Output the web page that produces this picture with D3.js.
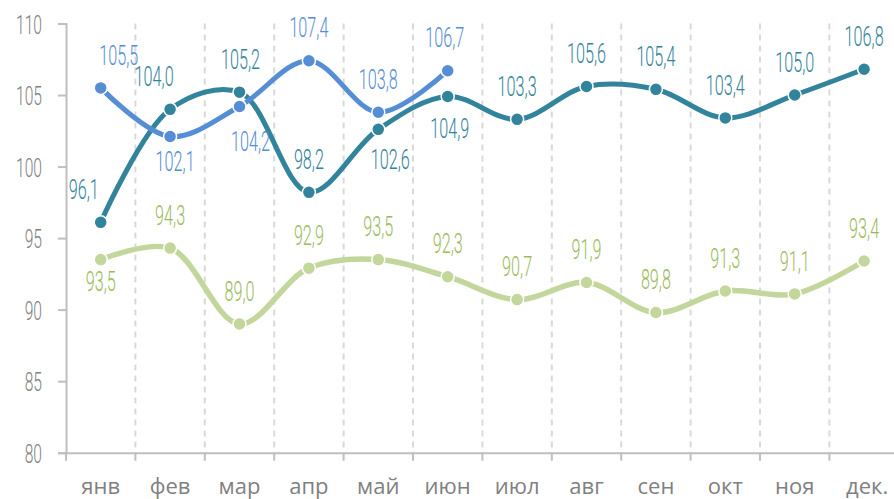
<!DOCTYPE html>
<html><head><meta charset="utf-8">
<script src="https://cdn.jsdelivr.net/npm/d3@7"></script>
<style>
html,body{margin:0;padding:0;background:#fff;overflow:hidden;}
svg{display:block;}
</style></head>
<body><svg id="c" width="894" height="499"></svg>
<script>
const months = ["янв","фев","мар","апр","май","июн","июл","авг","сен","окт","ноя","дек."];
const seriesBlue  = [105.5,102.1,104.2,107.4,103.8,106.7];
const seriesTeal  = [96.1,104.0,105.2,98.2,102.6,104.9,103.3,105.6,105.4,103.4,105.0,106.8];
const seriesGreen = [93.5,94.3,89.0,92.9,93.5,92.3,90.7,91.9,89.8,91.3,91.1,93.4];
const yTicks = [80,85,90,95,100,105,110];
// label placement: a = above, b = below
const placeBlue  = ["a","b","b","a","a","a"];
const placeTeal  = ["a","a","a","a","b","b","a","a","a","a","a","a"];
const placeGreen = ["b","a","a","a","a","a","a","a","a","a","a","a"];

const svg = d3.select("#c");
const left = 66, bw = 69.4;
const x = d3.scaleBand().domain(months).range([left, left + bw*12]).padding(0);
const y = d3.scaleLinear().domain([80,110]).range([452.7, 23.5]);
const cx = m => x(m) + x.bandwidth()/2;

const C = {teal:"#31849b", blue:"#558ed5", green:"#c3d69b", greenTxt:"#9bbb59", axis:"#bfbfbf", grid:"#d9d9d9", txt:"#808080"};

// gridlines at category boundaries
const bounds = months.map(m => x(m) + x.bandwidth());
svg.append("g").selectAll("line").data(bounds).join("line")
  .attr("x1", d=>d).attr("x2", d=>d).attr("y1", y(110)).attr("y2", y(80))
  .attr("stroke", C.grid).attr("stroke-width", 2).attr("stroke-dasharray", "6,5");

// y axis
const yAx = svg.append("g").attr("transform", `translate(${left},0)`)
  .call(d3.axisLeft(y).tickValues(yTicks).tickSize(8).tickFormat(""));
yAx.select(".domain").attr("stroke", C.axis).attr("stroke-width", 2);
yAx.selectAll(".tick line").attr("stroke", C.axis).attr("stroke-width", 2);

function condText(g, xx, yy, txt, color, size, sx, anchor) {
  g.append("text")
    .attr("transform", `translate(${xx},${yy}) scale(${sx},1)`)
    .attr("text-anchor", anchor || "middle")
    .attr("dominant-baseline", "central")
    .attr("font-family", "Roboto")
    .attr("font-weight", 300)
    .attr("font-size", size)
    .attr("fill", color)
    .text(txt);
}
const yl = svg.append("g");
yTicks.forEach(t => condText(yl, 42, y(t) + 1, String(t), C.txt, 26, 0.6, "end"));

// x axis
const xAx = svg.append("g").attr("transform", `translate(0,${y(80)})`)
  .call(d3.axisBottom(x).tickSize(0).tickFormat(""));
xAx.select(".domain").attr("stroke", C.axis).attr("stroke-width", 2);
svg.append("g").selectAll("line").data([left].concat(bounds)).join("line")
  .attr("x1", d=>d).attr("x2", d=>d).attr("y1", y(80)).attr("y2", y(80)+8)
  .attr("stroke", C.axis).attr("stroke-width", 2);
svg.append("g").selectAll("text").data(months).join("text")
  .attr("x", d => cx(d) + (d === "дек." ? 3 : 0)).attr("y", 494)
  .attr("text-anchor", "middle")
  .attr("font-family", "Open Sans").attr("font-size", 22).attr("fill", C.txt)
  .text(d => d);

const line = d3.line().curve(d3.curveCatmullRom.alpha(0.5)).x(d => cx(d.m)).y(d => y(d.v));
function drawSeries(vals, color, place, w) {
  const data = vals.map((v,i) => ({m: months[i], v, p: place[i]}));
  const g = svg.append("g");
  g.append("path").datum(data).attr("d", line).attr("fill", "none")
    .attr("stroke", color).attr("stroke-width", w).attr("stroke-linecap", "round");
  g.selectAll("circle").data(data).join("circle")
    .attr("cx", d => cx(d.m)).attr("cy", d => y(d.v)).attr("r", 6.5)
    .attr("fill", color).attr("stroke", "#fff").attr("stroke-width", 1.5);
  return {g, data};
}
const sg = drawSeries(seriesGreen, C.green, placeGreen, 5.5);
const st = drawSeries(seriesTeal, C.teal, placeTeal, 5);
const sb = drawSeries(seriesBlue, C.blue, placeBlue, 5);

const fmt = v => v.toFixed(1).replace(".", ",");
function labels(s, color, dxs, dys) {
  const lg = svg.append("g");
  s.data.forEach((d,i) => {
    const dy = (d.p === "a" ? -33 : 28) + (dys ? dys[i] : 0);
    condText(lg, cx(d.m) + (dxs ? dxs[i] : 0), y(d.v) + dy, fmt(d.v), color, 27, 0.6);
  });
}
labels(sg, C.greenTxt, [0,0,0,0,0,0,0,0,0,0,0,0], [-6,0,0,0,0,0,0,0,0,0,0,0]);
labels(st, C.teal, [-17,-16,1,0,12,2,0,0,0,0,0,0], [0,0,0,0,2,4,0,0,0,0,0,0]);
labels(sb, C.blue, [18,5,11,0,0,-3], [0,-3,7,0,0,0]);
</script></body></html>
